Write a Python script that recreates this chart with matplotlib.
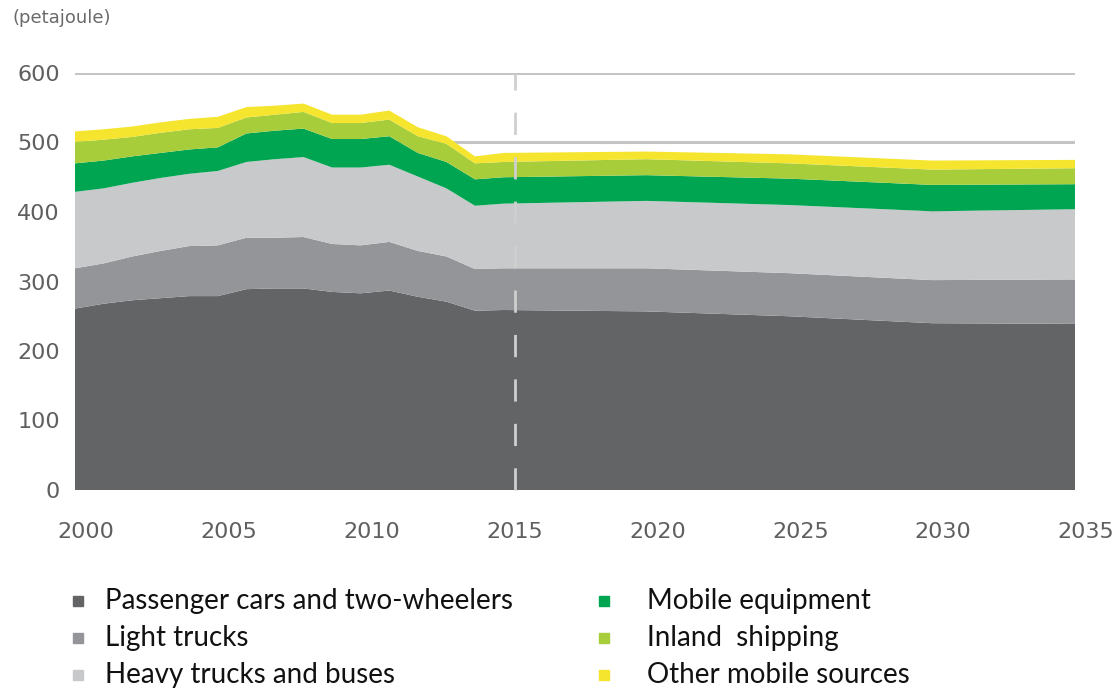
import matplotlib
matplotlib.use("Agg")
import matplotlib.pyplot as plt
import matplotlib.transforms as mtransforms
from matplotlib.lines import Line2D

# Energy use by mobile sources (petajoule), historic and projected
years = [2000, 2001, 2002, 2003, 2004, 2005, 2006, 2007, 2008, 2009,
         2010, 2011, 2012, 2013, 2014, 2015, 2020, 2025, 2030, 2035]
passenger_cars = [261, 268, 273, 276, 279, 279, 289, 290, 290, 285,
                  283, 287, 278, 271, 258, 259, 257, 250, 240, 239]
light_trucks = [58, 58, 63, 68, 72, 73, 74, 73, 74, 69,
                69, 70, 66, 65, 60, 60, 62, 62, 62, 64]
heavy_trucks = [110, 108, 106, 105, 104, 107, 109, 113, 115, 110,
                112, 111, 107, 98, 91, 93, 97, 98, 99, 101]
mobile_equipment = [41, 40, 38, 36, 35, 34, 41, 41, 41, 41,
                    41, 41, 34, 38, 38, 38, 37, 38, 38, 36]
inland_shipping = [31, 30, 28, 29, 29, 28, 23, 23, 24, 23,
                   23, 24, 24, 26, 23, 22, 23, 22, 22, 23]
other_sources = [15, 15, 15, 15, 15, 16, 15, 13, 12, 12,
                 12, 13, 13, 11, 10, 13, 11, 13, 13, 12]

series_labels = ["Passenger cars and two-wheelers", "Light trucks",
                 "Heavy trucks and buses", "Mobile equipment",
                 "Inland  shipping", "Other mobile sources"]
colors = ["#636466", "#949598", "#c8c9cb", "#00a551", "#a7cd3a", "#f6e52e"]

y_ticks = [0, 100, 200, 300, 400, 500, 600]
x_ticks = [2000, 2005, 2010, 2015, 2020, 2025, 2030, 2035]
projection_start = 2015

fig = plt.figure(figsize=(11.17, 6.88), dpi=100)
ax = fig.add_axes([75 / 1117, 1 - 490 / 688, 1000 / 1117, 417 / 688])

ax.stackplot(years, passenger_cars, light_trucks, heavy_trucks,
             mobile_equipment, inland_shipping, other_sources,
             colors=colors, linewidth=0, zorder=2)

ax.set_xlim(2000, 2035)
ax.set_ylim(0, 600)
for t in y_ticks:
    ax.axhline(t, color="#c4c4c4", lw=2.2, zorder=1)

# labels and the projection marker sit slightly right of the data grid
shift = mtransforms.ScaledTranslation(0.11, 0, fig.dpi_scale_trans)
ax.plot([projection_start, projection_start], [0, 1], color="#cfcfcf",
        lw=2, dashes=(8, 8), zorder=3, clip_on=False,
        transform=ax.get_xaxis_transform() + shift)

for s in ax.spines.values():
    s.set_visible(False)
ax.tick_params(length=0, colors="#5a5a5a")
ax.set_yticks(y_ticks)
ax.set_yticklabels([str(v) for v in y_ticks], fontsize=16,
                   color="#5f5f5f", family="DejaVu Sans")
ax.tick_params(axis="y", pad=11)
ax.set_xticks(x_ticks)
ax.set_xticklabels([str(v) for v in x_ticks], fontsize=16,
                   color="#5f5f5f", family="DejaVu Sans")
ax.tick_params(axis="x", pad=23)
for lab in ax.get_xticklabels():
    lab.set_transform(lab.get_transform() + shift)

fig.text(12 / 1117, 1 - 18 / 688, "(petajoule)", fontsize=13,
         color="#6a6a6a", va="center", ha="left")

# legend laid out in two columns of three
col_marker_x = [78, 604]
col_text_x = [105, 647]
row_y = [601, 638, 675]
for i, (label, c) in enumerate(zip(series_labels, colors)):
    col, row = divmod(i, 3)
    yy = 1 - row_y[row] / 688
    fig.add_artist(Line2D([col_marker_x[col] / 1117], [yy], marker="s",
                          markersize=7, color=c, linestyle="none"))
    fig.text(col_text_x[col] / 1117, yy, label, fontsize=20,
             family="Lato", color="#111111", va="center", ha="left")

fig.savefig("out.png", dpi=100)
